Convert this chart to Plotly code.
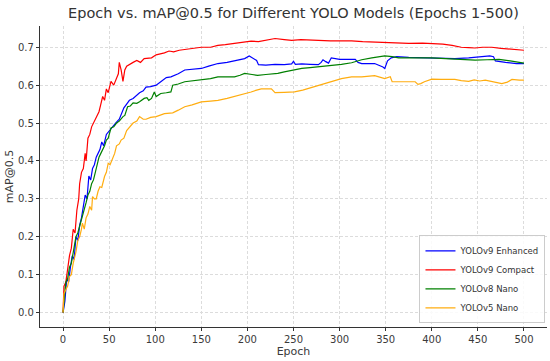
import plotly.graph_objects as go

# ---- data ----
red_epochs = [0,1,3,5,7,9,11,13,15,17,18,20,22,24,25,27,29,31,33,35,37,39,41,43,45,47,49,52,55,58,60,61,63,65,67,69,72,76,80,84,88,92,96,101,106,110,115,120,126,134,142,150,160,168,176,186,196,204,212,220,230,240,248,258,268,277,290,302,313,325,337,349,360,375,390,400,412,422,432,440,447,455,465,475,485,492,500]
red_values = [0.0,0.07,0.08,0.12,0.15,0.17,0.22,0.21,0.27,0.30,0.34,0.37,0.38,0.42,0.40,0.46,0.47,0.49,0.50,0.51,0.52,0.53,0.55,0.57,0.56,0.59,0.58,0.61,0.60,0.62,0.63,0.66,0.64,0.61,0.64,0.65,0.655,0.66,0.665,0.66,0.67,0.672,0.672,0.68,0.682,0.685,0.69,0.688,0.692,0.695,0.697,0.70,0.70,0.705,0.707,0.71,0.713,0.716,0.715,0.718,0.723,0.72,0.718,0.72,0.718,0.718,0.717,0.718,0.717,0.715,0.714,0.712,0.712,0.71,0.711,0.71,0.708,0.705,0.70,0.699,0.698,0.70,0.70,0.697,0.695,0.694,0.692]

blue_epochs = [0,2,4,6,8,10,12,14,16,18,20,22,24,26,28,30,32,34,36,38,40,42,44,47,50,54,57,61,64,66,69,72,76,80,83,87,90,95,101,106,112,117,125,132,140,150,158,168,178,190,197,202,206,210,212,220,230,240,248,250,252,259,268,277,280,282,285,288,291,300,310,317,320,324,338,343,347,349,352,356,362,375,386,396,410,425,440,455,463,467,469,480,492,500]
blue_values = [0.0,0.03,0.09,0.08,0.12,0.15,0.14,0.20,0.19,0.23,0.25,0.28,0.31,0.30,0.36,0.35,0.38,0.39,0.41,0.42,0.43,0.45,0.44,0.47,0.48,0.49,0.50,0.51,0.53,0.54,0.55,0.56,0.565,0.575,0.58,0.585,0.595,0.596,0.60,0.609,0.62,0.622,0.63,0.64,0.642,0.644,0.65,0.657,0.66,0.666,0.67,0.677,0.672,0.665,0.654,0.653,0.655,0.654,0.656,0.663,0.655,0.656,0.655,0.654,0.66,0.667,0.662,0.658,0.672,0.668,0.668,0.668,0.66,0.657,0.657,0.653,0.648,0.644,0.664,0.672,0.675,0.673,0.672,0.672,0.671,0.67,0.672,0.675,0.677,0.675,0.664,0.66,0.657,0.657]

green_epochs = [0,2,3,5,7,9,11,13,14,16,18,20,22,23,25,27,29,31,33,35,37,39,41,43,45,47,49,52,55,58,61,65,67,70,73,76,80,83,88,91,93,96,99,101,106,112,117,119,125,132,140,150,160,168,178,186,192,197,205,211,220,233,240,250,259,268,277,286,295,302,313,324,335,349,357,364,380,400,415,430,447,460,473,485,500]
green_values = [0.0,0.05,0.08,0.09,0.12,0.13,0.16,0.19,0.20,0.21,0.227,0.25,0.26,0.27,0.29,0.31,0.32,0.34,0.35,0.37,0.39,0.41,0.42,0.43,0.44,0.455,0.46,0.487,0.49,0.50,0.505,0.517,0.52,0.543,0.545,0.553,0.552,0.556,0.565,0.567,0.56,0.565,0.582,0.57,0.578,0.58,0.582,0.60,0.603,0.609,0.611,0.613,0.617,0.622,0.622,0.622,0.626,0.631,0.628,0.626,0.628,0.631,0.635,0.64,0.644,0.646,0.648,0.65,0.653,0.655,0.659,0.667,0.672,0.677,0.675,0.672,0.672,0.672,0.67,0.668,0.666,0.667,0.668,0.664,0.658]

orange_epochs = [0,1,3,5,7,9,11,12,14,16,18,20,21,23,25,27,29,31,32,34,36,38,40,42,45,47,49,51,54,56,58,61,63,66,69,72,76,80,83,87,90,95,101,110,119,125,132,140,150,160,168,178,186,195,204,210,215,226,230,240,251,260,266,275,284,293,302,313,324,338,345,349,355,357,370,382,385,388,392,400,410,425,432,440,446,452,458,464,468,476,482,487,495,500]
orange_values = [0.0,0.05,0.06,0.07,0.095,0.10,0.13,0.14,0.16,0.19,0.20,0.22,0.236,0.22,0.25,0.26,0.28,0.27,0.306,0.30,0.30,0.32,0.332,0.33,0.359,0.37,0.394,0.39,0.41,0.42,0.44,0.445,0.455,0.46,0.48,0.49,0.50,0.505,0.517,0.51,0.51,0.515,0.517,0.525,0.527,0.534,0.543,0.548,0.556,0.558,0.56,0.565,0.57,0.575,0.582,0.587,0.59,0.59,0.58,0.581,0.582,0.587,0.591,0.597,0.604,0.611,0.617,0.622,0.622,0.625,0.62,0.617,0.622,0.609,0.609,0.609,0.602,0.604,0.609,0.616,0.615,0.615,0.612,0.61,0.614,0.611,0.613,0.61,0.609,0.604,0.608,0.615,0.613,0.613]

series_names = ["YOLOv9 Enhanced", "YOLOv9 Compact", "YOLOv8 Nano", "YOLOv5 Nano"]
x_ticks = [0, 50, 100, 150, 200, 250, 300, 350, 400, 450, 500]
y_ticks = [0.0, 0.1, 0.2, 0.3, 0.4, 0.5, 0.6, 0.7]

series = [
    (blue_epochs, blue_values, "#0000ff"),
    (red_epochs, red_values, "#ff0000"),
    (green_epochs, green_values, "#008000"),
    (orange_epochs, orange_values, "#ffad10"),
]

fig = go.Figure()
for name, (xs, ys, col) in zip(series_names, series):
    fig.add_trace(go.Scatter(x=xs, y=ys, mode="lines", name=name,
                             line=dict(color=col, width=1.2)))

font_family = "DejaVu Sans"
fig.update_layout(
    width=550, height=361,
    margin=dict(l=40, r=3, t=26, b=34, autoexpand=False),
    paper_bgcolor="white", plot_bgcolor="white",
    font=dict(family=font_family, color="#3a3a3a", size=10),
    title=dict(text="Epoch vs. mAP@0.5 for Different YOLO Models (Epochs 1-500)",
               x=0.5, xref="paper", y=0.977, yanchor="top",
               font=dict(size=14.5, color="#333333")),
    legend=dict(x=0.997, y=0.012, xanchor="right", yanchor="bottom",
                bgcolor="rgba(255,255,255,0.85)", bordercolor="#cccccc", borderwidth=1,
                font=dict(size=8.5, color="#333333"), itemwidth=30,
                tracegroupgap=0),
    showlegend=True,
)
grid_style = dict(showgrid=True, gridcolor="#dcdcdc", griddash="3px,2px", gridwidth=0.8)
fig.update_xaxes(range=[-25, 525], tickvals=x_ticks, ticktext=[str(v) for v in x_ticks],
                 title=dict(text="Epoch", standoff=2, font=dict(size=11)),
                 automargin=False,
                 showline=True, linecolor="#333333", linewidth=1.2, mirror=False,
                 ticks="outside", ticklen=3, tickcolor="#333333",
                 zeroline=False, tickfont=dict(size=10), **grid_style)
fig.update_yaxes(range=[-0.038, 0.756], tickvals=y_ticks, ticktext=[f"{v:.1f}" for v in y_ticks],
                 title=dict(text="mAP@0.5", standoff=2, font=dict(size=11)),
                 automargin=False,
                 showline=True, linecolor="#333333", linewidth=1.2, mirror=False,
                 ticks="outside", ticklen=3, tickcolor="#333333",
                 zeroline=False, tickfont=dict(size=10), **grid_style)

fig.write_html("out.html", config={"displayModeBar": False},
               post_script="document.body.style.margin='0px';")
